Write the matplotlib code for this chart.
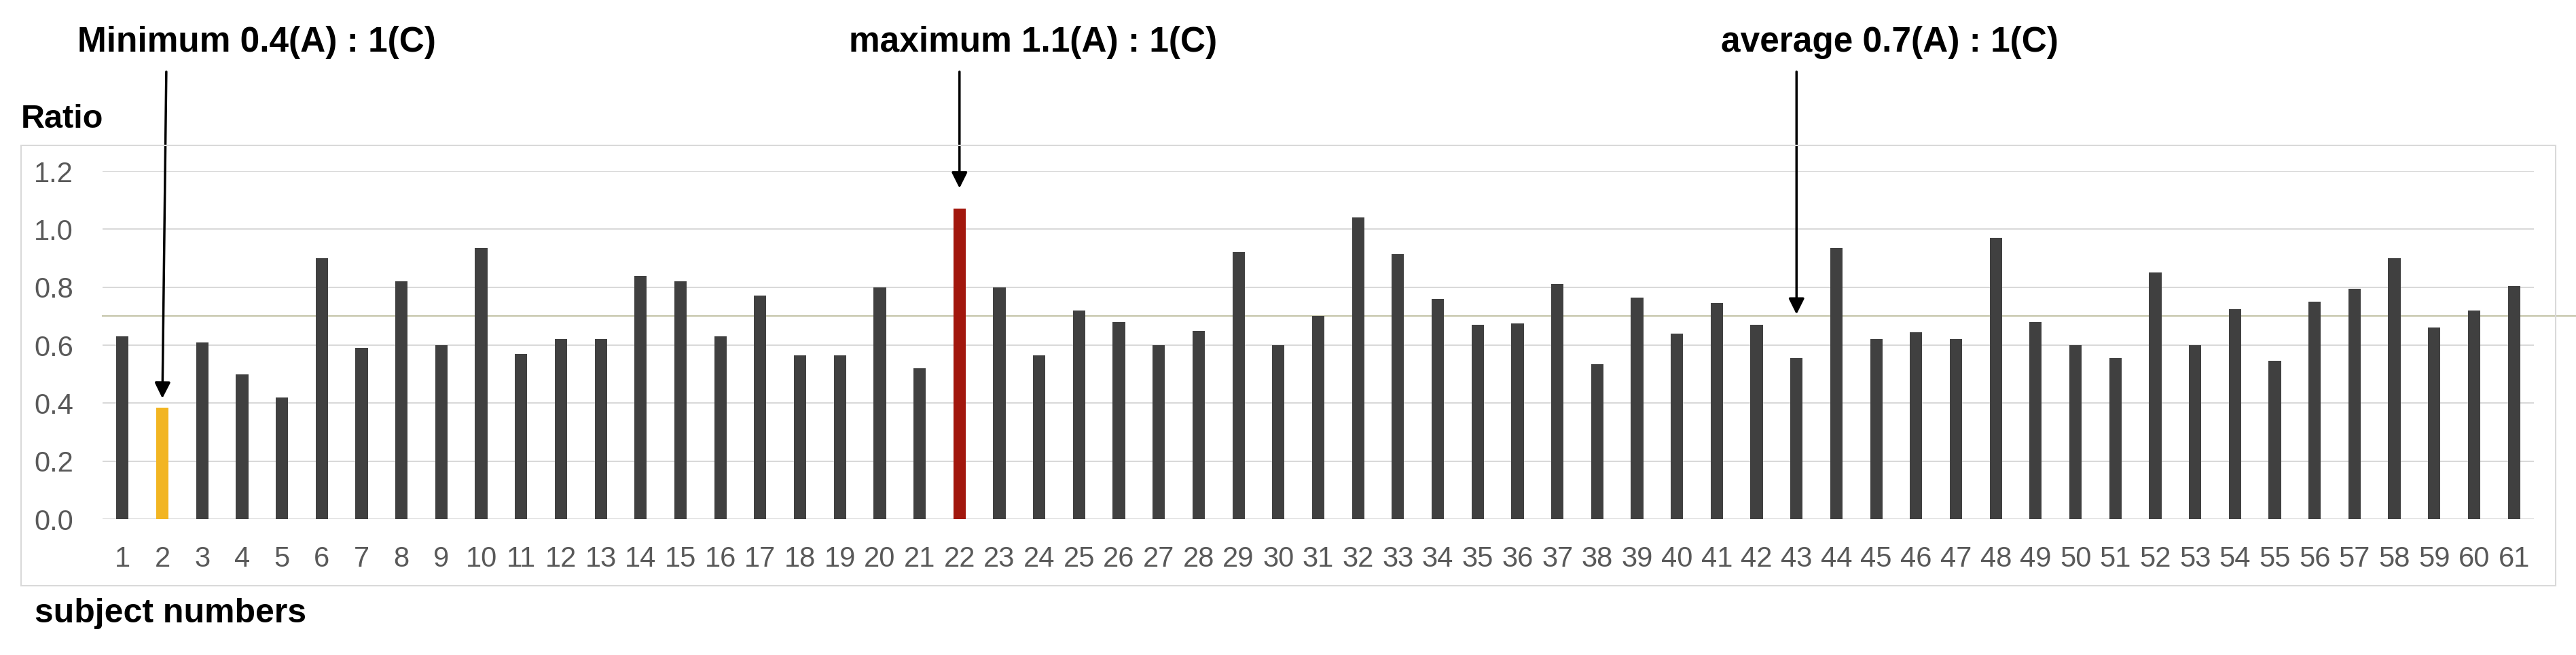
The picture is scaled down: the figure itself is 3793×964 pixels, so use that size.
import matplotlib
matplotlib.use('Agg')
import matplotlib.pyplot as plt
from matplotlib.patches import Rectangle

plt.rcParams['font.family'] = ['Liberation Sans', 'DejaVu Sans']

# 数据
subjects = list(range(1, 62))
ratio = [0.63, 0.385, 0.61, 0.50, 0.42, 0.90, 0.59, 0.82, 0.60, 0.935,
         0.57, 0.62, 0.62, 0.84, 0.82, 0.63, 0.77, 0.565, 0.565, 0.80,
         0.52, 1.07, 0.80, 0.565, 0.72, 0.68, 0.60, 0.65, 0.92, 0.60,
         0.70, 1.04, 0.915, 0.76, 0.67, 0.675, 0.81, 0.535, 0.765, 0.64,
         0.745, 0.67, 0.555, 0.935, 0.62, 0.645, 0.62, 0.97, 0.68, 0.60,
         0.555, 0.85, 0.60, 0.725, 0.545, 0.75, 0.795, 0.90, 0.66, 0.72,
         0.805]
average = 0.70
y_ticks = [0.0, 0.2, 0.4, 0.6, 0.8, 1.0, 1.2]
min_label = 'Minimum 0.4(A) : 1(C)'
max_label = 'maximum 1.1(A) : 1(C)'
avg_label = 'average 0.7(A) : 1(C)'

i_min = ratio.index(min(ratio))
i_max = ratio.index(max(ratio))
colors = ['#404040'] * len(ratio)
colors[i_min] = '#f2b522'
colors[i_max] = '#a2170d'

W, H = 3793, 964
fig = plt.figure(figsize=(W / 100, H / 100), dpi=100)
ax = fig.add_axes([151 / W, 1 - 764 / H, 3580 / W, 512 / H])

# 外框
fig.patches.append(Rectangle((31 / W, 1 - 862 / H), 3732 / W, 648 / H,
                             transform=fig.transFigure, fill=False,
                             edgecolor='#d9d9d9', linewidth=1.5))

ax.bar(subjects, ratio, width=0.31, color=colors, zorder=3)
ax.axhline(average, xmin=0, xmax=1.017, color='#c4c4a8', linewidth=1.5,
           clip_on=False, zorder=2)

ax.set_xlim(0.5, 61.5)
ax.set_ylim(0, 1.2)
ax.set_xticks(subjects)
ax.set_yticks(y_ticks)
ax.set_yticklabels([f'{v:.1f}' for v in y_ticks])
ax.tick_params(axis='both', length=0, labelsize=30, labelcolor='#595959')
ax.tick_params(axis='y', pad=31)
ax.tick_params(axis='x', pad=28)
ax.grid(axis='y', color='#d9d9d9', linewidth=1.5, zorder=0)
for s in ax.spines.values():
    s.set_visible(False)

# 标注
fs = 37
ax.text(4.36, 1.645, min_label, ha='center', va='center', fontsize=fs,
        fontweight='bold', clip_on=False)
ax.text(23.85, 1.645, max_label, ha='center', va='center', fontsize=fs,
        fontweight='bold', clip_on=False)
ax.text(45.34, 1.645, avg_label, ha='center', va='center', fontsize=fs,
        fontweight='bold', clip_on=False)

arrow = dict(arrowstyle='-|>', color='black', lw=2.5, mutation_scale=35)
ax.annotate('', xy=(i_min + 1, ratio[i_min] + 0.025), xytext=(i_min + 1.1, 1.55),
            arrowprops=arrow, annotation_clip=False)
ax.annotate('', xy=(i_max + 1, ratio[i_max] + 0.065), xytext=(i_max + 1, 1.55),
            arrowprops=arrow, annotation_clip=False)
ax.annotate('', xy=(43, average), xytext=(43, 1.55),
            arrowprops=arrow, annotation_clip=False)

fig.text(31 / W, 1 - 176 / H, 'Ratio', ha='left', va='center', fontsize=35,
         fontweight='bold')
fig.text(51 / W, 1 - 903 / H, 'subject numbers', ha='left', va='center',
         fontsize=36, fontweight='bold')

plt.savefig('out.png', dpi=100)
